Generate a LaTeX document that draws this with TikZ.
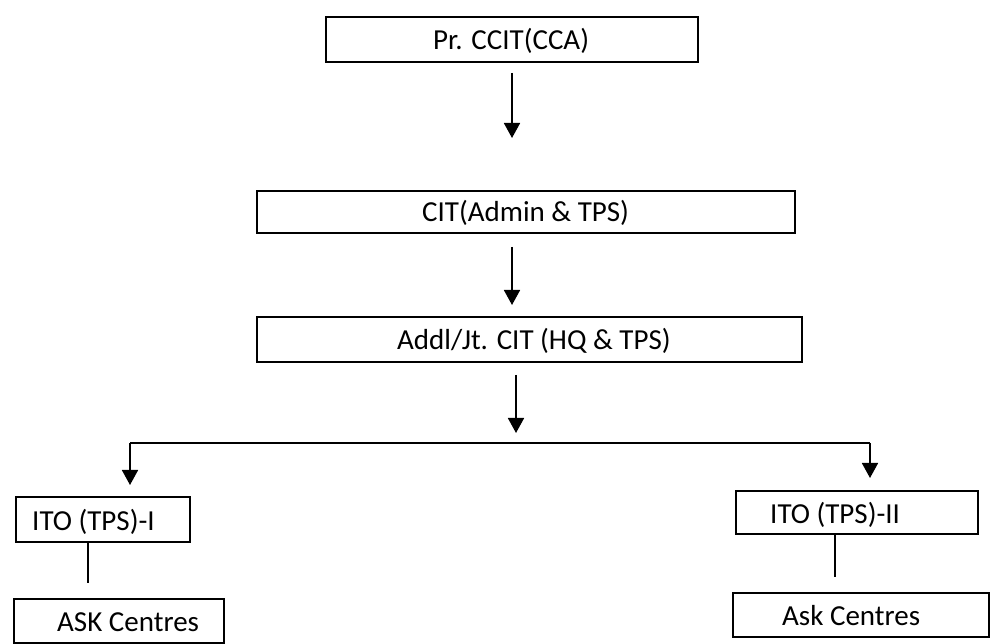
\documentclass[tikz,border=0pt]{standalone}
\usepackage{fontspec}
\setmainfont{Carlito}
\usetikzlibrary{arrows.meta}
\begin{document}
\begin{tikzpicture}[x=1pt,y=-1pt,
  box/.style n args={2}{draw, line width=1.4pt, inner sep=0pt, minimum width=#1pt, minimum height=#2pt},
  txt/.style={font=\fontsize{29}{34}\selectfont, anchor=base west, inner sep=0pt},
  conn/.style={line width=1.7pt},
  arr/.style={line width=1.7pt, -{Triangle[width=16pt,length=15pt]}}]
\useasboundingbox (0,0) rectangle (997,644);
% boxes
\node[box={372}{45}] (b1) at (512,39.5) {};
\node[box={538}{42}] (b2) at (526,212) {};
\node[box={545}{45}] (b3) at (529.5,339.5) {};
\node[box={174}{45}] (l1) at (103,519.5) {};
\node[box={210}{44}] (l2) at (119,621) {};
\node[box={242}{43}] (r1) at (857,512.5) {};
\node[box={256}{44}] (r2) at (861,615) {};
% texts
\node[txt] (t1) at (433,50) {Pr. CCIT(CCA)};
\node[txt] (t2) at (422,222) {CIT(Admin \& TPS)};
\node[txt] (t3) at (397,350) {Addl/Jt. CIT (HQ \& TPS)};
\node[txt] (t4) at (32,530) {ITO (TPS)-I};
\node[txt] (t5) at (57,631) {ASK Centres};
\node[txt] (t6) at (770,523) {ITO (TPS)-II};
\node[txt] (t7) at (782,625) {Ask Centres};
% connector points
\coordinate (a1s) at (512,73);  \coordinate (a1e) at (512,138);
\coordinate (a2s) at (512,247); \coordinate (a2e) at (512,305);
\coordinate (a3s) at (516,375); \coordinate (a3e) at (516,433);
\coordinate (hl) at (130,443);  \coordinate (hr) at (870,443);
\coordinate (dl) at (130,485);  \coordinate (dr) at (870,478);
\coordinate (ll) at (88,583);   \coordinate (rl) at (835,577);
\draw[arr] (a1s) -- (a1e);
\draw[arr] (a2s) -- (a2e);
\draw[arr] (a3s) -- (a3e);
\draw[conn] (hl) -- (hr);
\draw[arr] (hl) -- (dl);
\draw[arr] (hr) -- (dr);
\draw[conn] (l1.south -| ll) -- (ll);
\draw[conn] (r1.south -| rl) -- (rl);
\end{tikzpicture}
\end{document}
